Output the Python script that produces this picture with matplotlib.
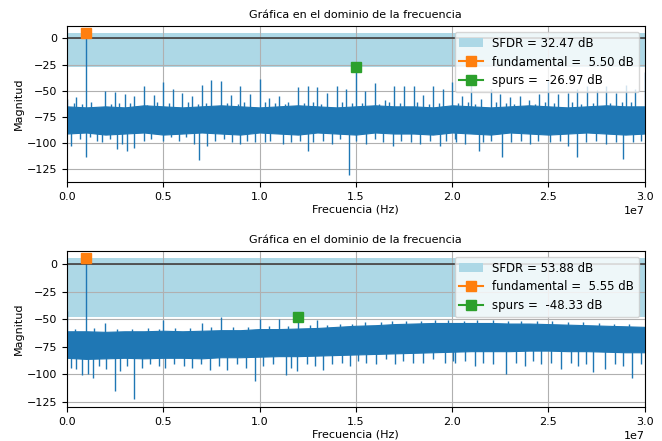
import numpy as np
import matplotlib
matplotlib.use('Agg')
import matplotlib.pyplot as plt
from matplotlib.patches import Patch

plt.rcParams['font.size'] = 8

# ---------------- data (frequencies in MHz, magnitudes in dB) ----------------
# noise floor envelope, sampled every 1 MHz
env_f = [0, 1, 2, 3, 4, 5, 6, 7, 8, 9, 10, 11, 12, 13, 14, 15,
         16, 17, 18, 19, 20, 21, 22, 23, 24, 25, 26, 27, 28, 29, 30]

top_upper = [-65, -66, -65, -66, -64, -65, -66, -65, -64, -65, -66, -65, -64, -65, -66, -65,
             -64, -65, -65, -66, -64, -65, -66, -65, -64, -65, -66, -65, -64, -65, -65]
top_lower = [-91, -90, -92, -91, -90, -92, -91, -90, -91, -92, -90, -91, -92, -90, -91, -92,
             -90, -91, -91, -92, -90, -91, -92, -90, -91, -92, -91, -90, -91, -92, -91]

bot_upper = [-61, -61, -61.5, -61, -61, -60.5, -61, -60.5, -60, -60, -59, -59, -58.5, -58, -57, -56,
             -55.5, -54.5, -54, -53.5, -53.5, -53.5, -53.5, -54, -54, -54.5, -55, -55.5, -56, -56.5, -57]
bot_lower = [-85, -86, -85.5, -85, -85.5, -85, -85, -85.5, -84.5, -84.5, -84, -83.5, -83.5, -83, -82.5, -82,
             -81.5, -81, -80.5, -80, -79.5, -79, -79, -79, -78.5, -78.5, -79, -79, -79.5, -80, -80]

# top: harmonic comb every 0.5 MHz (includes fundamental at 1 MHz and spur at 15 MHz)
harm_step = 0.5
top_harm_db = [-58, -56.4, 5.50, -66, -50.6, -51.6, -53.2, -55.4, -45.8, -54.2,
               -42, -48.4, -52.6, -54.8, -44.2, -39.7, -40.3, -54.2, -45.8, -53.2,
               -38.8, -57.3, -54.8, -60.5, -46.8, -45.2, -46.8, -52.2, -45.2, -48.4,
               -26.97, -49.9, -42.6, -58.5, -45.2, -45.8, -45.2, -54.2, -45.8, -48.4,
               -41.3, -54.8, -44.5, -57.9, -48.4, -53.2, -56.4, -54.8, -58.5, -53.2,
               -41, -53, -52, -48, -46, -49, -46, -52, -45, -48,
               -32.5]

top_dip_f = [0.22, 0.67, 0.99, 1.2, 1.57, 1.83, 2.26, 2.6, 2.87, 3.13, 3.48, 4.0, 4.38, 5.0, 5.38,
             5.81, 6.16, 6.59, 6.85, 7.28, 7.71, 8.15, 8.58, 9.01, 9.36, 9.79,
             10.27, 10.53, 11.22, 11.66, 12.09, 12.53, 12.78, 13.3, 13.74, 14.17, 14.64,
             15.03, 15.55, 15.98, 16.42, 16.93, 17.37, 17.88, 18.32, 18.84, 19.36, 19.7, 20.13,
             20.22, 20.65, 21.4, 21.6, 22.04, 22.6, 23.07, 23.6, 24.03, 24.46, 25.07, 25.58,
             26.02, 26.48, 26.97, 27.49, 28.0, 28.52, 28.87, 29.39, 29.82]
top_dip_db = [-103, -96, -113, -94, -98, -99.5, -96, -106, -101, -107.6, -104.5, -98, -96, -98, -94,
              -98, -94, -101, -116, -103, -98, -96, -99.5, -101, -98, -99.5,
              -99.5, -98, -101, -99.5, -98, -107.6, -99.5, -98, -101, -96, -131,
              -98, -101, -96, -99.5, -103, -98, -99.5, -101, -98, -103, -98, -96,
              -99.5, -101, -107.6, -99.5, -98, -113.6, -99.5, -98, -101, -98, -99.5, -98,
              -103, -113, -99.5, -98, -101, -99.5, -115, -99.5, -98]

top_peak_f = [0.35, 0.8, 1.25, 2.3, 2.7, 3.3, 4.15, 4.7, 5.3, 6.3, 6.8, 7.2, 8.3, 8.9, 9.2,
              10.3, 10.8, 11.3, 12.3, 12.8, 13.2, 14.3, 14.8, 15.3, 16.2, 16.7, 17.3, 18.2,
              18.8, 19.3, 20.3, 20.8, 21.2, 22.3, 22.8, 23.2, 24.3, 24.8, 25.3, 26.2, 26.7,
              27.3, 28.2, 28.8, 29.3]
top_peak_db = [-62, -63, -61, -63, -62, -62, -64, -61, -62, -61, -63, -62, -62, -63, -61,
               -61, -62, -63, -62, -61, -63, -61, -62, -62, -63, -61, -62, -61,
               -63, -62, -62, -61, -63, -61, -62, -63, -63, -61, -62, -61, -63,
               -62, -62, -61, -61]

# bottom: sparse spurs (includes fundamental at 1 MHz and spur at 12 MHz)
bot_spike_f = [0, 1, 2, 5, 7, 8, 10, 11, 12, 13]
bot_spike_db = [-43, 5.55, -53.6, -50.6, -53.6, -48.2, -50, -50, -48.33, -51.2]

bot_dip_f = [0.19, 0.5, 0.8, 1.09, 1.35, 1.66, 2.01, 2.49, 2.78, 3.13, 3.51, 3.91, 4.34, 4.77,
             5.12, 5.55, 6.07, 6.5, 6.94, 7.42, 7.89, 8.32, 8.84, 9.32, 9.79,
             10.19, 10.71, 11.37, 11.66, 11.97, 12.44, 12.87, 13.3, 13.74, 14.26, 14.69,
             15.12, 15.55, 16.07, 16.59, 17.03, 17.45, 17.97, 18.49, 19.0, 19.62, 20.05,
             20.13, 20.65, 21.17, 21.6, 22.12, 22.78, 23.34, 23.77, 24.2, 24.63, 25.15,
             25.67, 26.19, 26.53, 26.97, 27.31, 27.92, 28.44, 28.87, 29.36, 29.82]
bot_dip_db = [-93.8, -95.2, -100.6, -99.8, -103.6, -92.3, -95.2, -115, -96.7, -92.3, -122.6, -93.8, -90.8, -92.3,
              -93.8, -90.8, -92.3, -93.8, -90.8, -96.1, -92.3, -95.8, -90.8, -93.8, -105.7,
              -92.3, -90.8, -100.6, -93.8, -96.7, -90.8, -92.3, -96.1, -90.8, -89.3, -92.3,
              -87.8, -89.3, -90.8, -86.4, -90.8, -87.8, -89.3, -89.3, -86.4, -89.3, -87.8,
              -89.3, -87.8, -92.3, -89.3, -90.8, -99.8, -89.3, -92.3, -87.8, -90.8, -89.3,
              -95.2, -89.3, -92.3, -90.8, -98.3, -95.2, -90.8, -92.3, -103.6, -90.8]

bot_peak_f = [0.4, 1.4, 2.6, 3.4, 4.2, 4.8, 5.6, 6.4, 7.5, 8.6, 9.4, 10.5, 11.5, 12.6, 13.5,
              14.2, 14.8, 15.5, 16.3, 16.9, 17.6, 18.4, 19.1, 19.8, 20.6, 21.3, 22.1, 22.9,
              23.6, 24.4, 25.2, 26.0, 26.8, 27.6, 28.4, 29.2]
bot_peak_db = [-58.5, -58, -59, -58.5, -58, -59, -58, -58, -57.5, -57.5, -57, -56.5, -56, -55.5, -55,
               -54.5, -54, -53, -52.5, -52, -51.5, -51.5, -51, -51, -51.5, -51, -51, -51.5,
               -51.5, -52, -52, -52.5, -53, -53.5, -54, -54.5]

panels = [
    dict(upper=top_upper, lower=top_lower, spike_f=[k * harm_step for k in range(len(top_harm_db))],
         spike_db=top_harm_db, dip_f=top_dip_f, dip_db=top_dip_db, peak_f=top_peak_f, peak_db=top_peak_db,
         fund_f=1.0, fund=5.50, spur_f=15.0, spur=-26.97, ylim=(-137.5, 11.8)),
    dict(upper=bot_upper, lower=bot_lower, spike_f=bot_spike_f, spike_db=bot_spike_db,
         dip_f=bot_dip_f, dip_db=bot_dip_db, peak_f=bot_peak_f, peak_db=bot_peak_db,
         fund_f=1.0, fund=5.55, spur_f=12.0, spur=-48.33, ylim=(-129.6, 11.8)),
]

fig, axes = plt.subplots(2, 1, figsize=(6.62, 4.41), dpi=100)
fig.subplots_adjust(left=0.101, right=0.974, top=0.941, bottom=0.077, hspace=0.44)

MHz = 1e6
line_c = '#1f77b4'

for ax, p in zip(axes, panels):
    sfdr = p['fund'] - p['spur']
    ax.axhspan(p['spur'], p['fund'], color='lightblue', lw=0, zorder=1)

    ef = np.array(env_f) * MHz
    up = np.array(p['upper'])
    lo = np.array(p['lower'])
    mid = (up + lo) / 2
    ax.fill_between(ef, lo, up, color=line_c, lw=0.8, edgecolor=line_c, zorder=2)

    for fs, vals in (('dip_f', 'dip_db'), ('peak_f', 'peak_db'), ('spike_f', 'spike_db')):
        f = np.array(p[fs]) * MHz
        base = np.interp(f, ef, mid)
        ax.vlines(f, base, p[vals], color=line_c, lw=1.0, zorder=2)

    ax.axhline(0, color='0.25', lw=1.2, zorder=2.5)

    ax.plot([p['fund_f'] * MHz], [p['fund']], 's-', color='#ff7f0e', ms=6.5, zorder=4)
    ax.plot([p['spur_f'] * MHz], [p['spur']], 's-', color='#2ca02c', ms=6.5, zorder=4)

    handles = [
        Patch(facecolor='lightblue', label=f'SFDR = {sfdr:.2f} dB'),
        plt.Line2D([], [], color='#ff7f0e', marker='s', ms=6.5, label=f'fundamental =  {p["fund"]:.2f} dB'),
        plt.Line2D([], [], color='#2ca02c', marker='s', ms=6.5, label=f'spurs =  {p["spur"]:.2f} dB'),
    ]
    ax.legend(handles=handles, loc='upper right', fontsize=8.5)

    ax.set_xlim(0, 30 * MHz)
    ax.set_ylim(*p['ylim'])
    ax.set_yticks([0, -25, -50, -75, -100, -125])
    ax.grid(True)
    ax.set_title('Gráfica en el dominio de la frecuencia', fontsize=8)
    ax.set_xlabel('Frecuencia (Hz)', labelpad=2)
    ax.set_ylabel('Magnitud', labelpad=2)

fig.savefig('out.png', dpi=100)
